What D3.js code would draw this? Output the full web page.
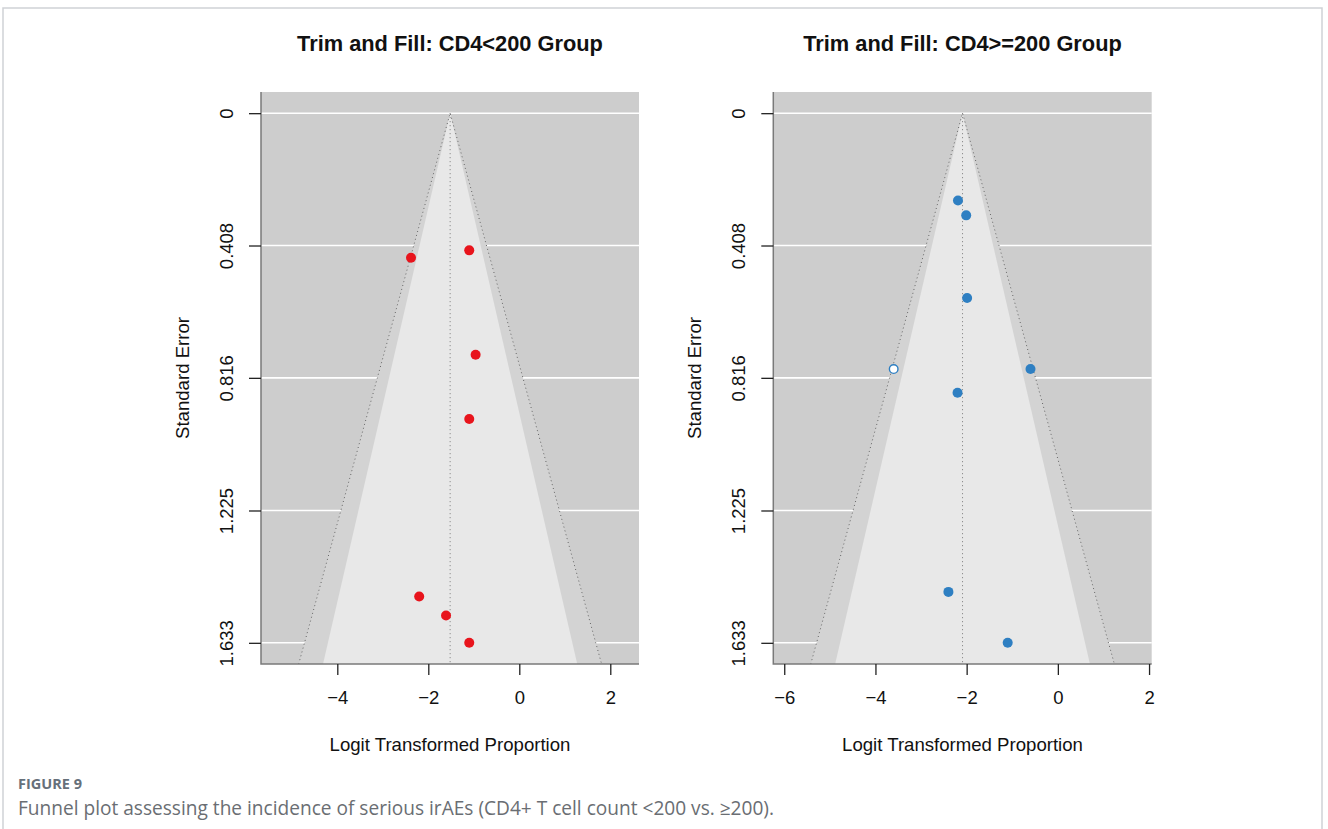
<!DOCTYPE html>
<html>
<head>
<meta charset="utf-8">
<script src="https://cdn.jsdelivr.net/npm/d3@7"></script>
<style>
body{margin:0;background:#fff}
svg{display:block}
</style>
</head>
<body>
<svg id="svg1" width="1328" height="829"></svg>
<script>
// data
var seTicks = [0, 0.408, 0.816, 1.225, 1.633]
var seTickLabels = ["0", "0.408", "0.816", "1.225", "1.633"]

var leftTitle = "Trim and Fill: CD4<200 Group"
var leftCenter = -1.52
var leftXTicks = [-4, -2, 0, 2]
var leftX = [-2.38, -1.10, -0.96, -1.10, -2.20, -1.61, -1.10]
var leftSE = [0.446, 0.423, 0.745, 0.943, 1.490, 1.549, 1.633]

var rightTitle = "Trim and Fill: CD4>=200 Group"
var rightCenter = -2.09
var rightXTicks = [-6, -4, -2, 0, 2]
var rightX = [-2.19, -2.01, -1.99, -0.60, -2.20, -2.40, -1.10]
var rightSE = [0.269, 0.315, 0.570, 0.789, 0.862, 1.476, 1.633]
// filled (imputed) studies
var rightFillX = [-3.60]
var rightFillSE = [0.789]

var z90 = 1.645, z95 = 1.96

var svg = d3.select("#svg1")
var font = "Liberation Sans, Arial, sans-serif"

// frame around the figure
svg.append("path")
    .attr("d", "M3,829 L3,8 L1322,8 L1322,829")
    .attr("fill", "none")
    .attr("stroke", "#cfd2d6")
    .attr("stroke-width", 1.5)

function funnel(opt){
    var top = 92, bottom = 664
    var x = d3.scaleLinear().domain(opt.xdom).range([opt.left, opt.right])
    var y = d3.scaleLinear().domain([-0.0653, 1.6983]).range([top, bottom])
    var g = svg.append("g")
    var seMax = y.domain()[1]

    var clipId = "clip" + Math.round(opt.left)
    g.append("clipPath").attr("id", clipId)
        .append("rect").attr("x", opt.left).attr("y", top)
        .attr("width", opt.right - opt.left).attr("height", bottom - top)

    g.append("rect").attr("x", opt.left).attr("y", top)
        .attr("width", opt.right - opt.left).attr("height", bottom - top)
        .attr("fill", "#cdcdcd")

    g.selectAll("line.grid").data(seTicks).enter().append("line")
        .attr("class", "grid")
        .attr("x1", opt.left).attr("x2", opt.right)
        .attr("y1", function(d){ return y(d) }).attr("y2", function(d){ return y(d) })
        .attr("stroke", "#ffffff").attr("stroke-width", 1.6)

    var line = d3.line().x(function(d){ return x(d[0]) }).y(function(d){ return y(d[1]) })
    var c = opt.center
    var tri = function(z){ return [[c - z*seMax, seMax], [c, 0], [c + z*seMax, seMax]] }

    var fg = g.append("g").attr("clip-path", "url(#" + clipId + ")")
    fg.append("path").attr("d", line(tri(z95)) + "Z").attr("fill", "#d3d3d3")
    fg.append("path").attr("d", line(tri(z90)) + "Z").attr("fill", "#e8e8e8")
    fg.append("path").attr("d", line(tri(z95)))
        .attr("fill", "none").attr("stroke", "#666").attr("stroke-width", 1)
        .attr("stroke-dasharray", "1,3")
    fg.append("line").attr("x1", x(c)).attr("x2", x(c)).attr("y1", y(0)).attr("y2", bottom)
        .attr("stroke", "#7a7a7a").attr("stroke-width", 1).attr("stroke-dasharray", "1,3")

    // box (left + bottom)
    g.append("path")
        .attr("d", "M" + opt.left + "," + top + " L" + opt.left + "," + bottom + " L" + opt.right + "," + bottom)
        .attr("fill", "none").attr("stroke", "#7a7a7a").attr("stroke-width", 1.5)

    var xAxis = g.append("g").attr("transform", "translate(0," + bottom + ")")
        .call(d3.axisBottom(x).tickValues(opt.xticks).tickSize(11).tickPadding(16)
            .tickFormat(function(d){ return d < 0 ? "\u2212" + Math.abs(d) : d }))
    xAxis.select(".domain").remove()
    xAxis.selectAll("line").attr("stroke", "#222").attr("stroke-width", 1.3)
    xAxis.selectAll("text").attr("font-family", font).attr("font-size", 18.5).attr("fill", "#111")

    var yAxis = g.append("g").attr("transform", "translate(" + opt.left + ",0)")
        .call(d3.axisLeft(y).tickValues(seTicks).tickSize(12)
            .tickFormat(function(d, i){ return seTickLabels[i] }))
    yAxis.select(".domain").remove()
    yAxis.selectAll("line").attr("stroke", "#222").attr("stroke-width", 1.3)
    yAxis.selectAll("text")
        .attr("font-family", font).attr("font-size", 18.5).attr("fill", "#111")
        .attr("x", null).attr("dy", null)
        .attr("text-anchor", "middle")
        .attr("transform", "translate(-28,0) rotate(-90)")
        .attr("y", 0)

    g.selectAll("circle.pt").data(opt.xs).enter().append("circle")
        .attr("class", "pt")
        .attr("cx", function(d){ return x(d) })
        .attr("cy", function(d, i){ return y(opt.se[i]) })
        .attr("r", 5)
        .attr("fill", opt.color)

    if(opt.fillX){
        g.selectAll("circle.fill").data(opt.fillX).enter().append("circle")
            .attr("class", "fill")
            .attr("cx", function(d){ return x(d) })
            .attr("cy", function(d, i){ return y(opt.fillSE[i]) })
            .attr("r", 4.3)
            .attr("fill", "#fff").attr("stroke", opt.color).attr("stroke-width", 1.4)
    }

    var mid = (opt.left + opt.right) / 2
    g.append("text").attr("x", mid).attr("y", 51)
        .attr("text-anchor", "middle").attr("font-family", font)
        .attr("font-weight", "bold").attr("font-size", 21.8).attr("fill", "#111")
        .text(opt.title)
    g.append("text").attr("x", mid).attr("y", 751)
        .attr("text-anchor", "middle").attr("font-family", font)
        .attr("font-size", 18.6).attr("fill", "#111")
        .text("Logit Transformed Proportion")
    g.append("text")
        .attr("transform", "translate(" + (opt.left - 72) + "," + ((top + bottom) / 2) + ") rotate(-90)")
        .attr("text-anchor", "middle").attr("font-family", font)
        .attr("font-size", 18.6).attr("fill", "#111")
        .text("Standard Error")
}

funnel({left: 261, right: 639, xdom: [-5.677, 2.631], center: leftCenter,
    xticks: leftXTicks, xs: leftX, se: leftSE, color: "#e8141c", title: leftTitle})
funnel({left: 773.3, right: 1151.7, xdom: [-6.24, 2.058], center: rightCenter,
    xticks: rightXTicks, xs: rightX, se: rightSE, color: "#2e7fc2", title: rightTitle,
    fillX: rightFillX, fillSE: rightFillSE})

// caption
svg.append("text").attr("x", 18).attr("y", 789)
    .attr("font-family", "Open Sans, sans-serif").attr("font-weight", "bold")
    .attr("font-size", 14.5).attr("fill", "#66707a")
    .text("FIGURE 9")
svg.append("text").attr("x", 18).attr("y", 815)
    .attr("font-family", "Open Sans, sans-serif")
    .attr("font-size", 19.1).attr("fill", "#6a6e73")
    .text("Funnel plot assessing the incidence of serious irAEs (CD4+ T cell count <200 vs. \u2265200).")
</script>
</body>
</html>
